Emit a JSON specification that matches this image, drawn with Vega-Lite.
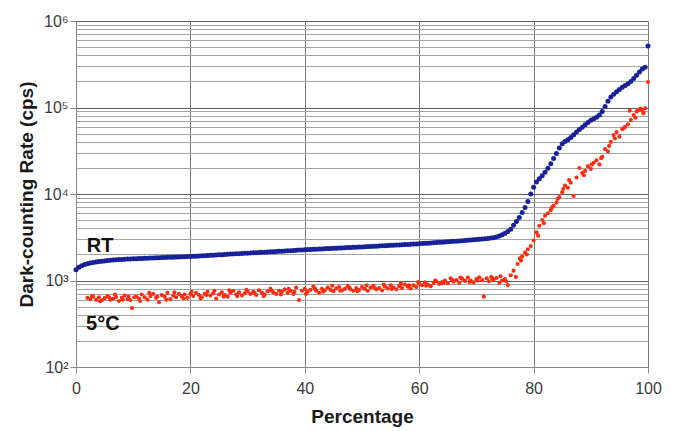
{
  "$schema": "https://vega.github.io/schema/vega-lite/v6.json",
  "width": 572,
  "height": 346,
  "autosize": {"type": "none"},
  "padding": {"left": 76, "top": 21, "right": 29, "bottom": 64},
  "background": "white",
  "config": {"view": {"stroke": null}},
  "layer": [
    {
      "data": {"values": [
        {"s":"RT","x":0,"y":1330},{"s":"RT","x":0.5,"y":1420},{"s":"RT","x":1,"y":1480},{"s":"RT","x":1.5,"y":1530},{"s":"RT","x":2,"y":1565},{"s":"RT","x":2.5,"y":1590},{"s":"RT","x":3,"y":1615},{"s":"RT","x":3.5,"y":1635},{"s":"RT","x":4,"y":1655},{"s":"RT","x":4.5,"y":1670},
        {"s":"RT","x":5,"y":1685},{"s":"RT","x":5.5,"y":1700},{"s":"RT","x":6,"y":1712},{"s":"RT","x":6.5,"y":1722},{"s":"RT","x":7,"y":1733},{"s":"RT","x":7.5,"y":1745},{"s":"RT","x":8,"y":1752},{"s":"RT","x":8.5,"y":1760},{"s":"RT","x":9,"y":1768},{"s":"RT","x":9.5,"y":1775},
        {"s":"RT","x":10,"y":1782},{"s":"RT","x":10.5,"y":1789},{"s":"RT","x":11,"y":1795},{"s":"RT","x":11.5,"y":1801},{"s":"RT","x":12,"y":1807},{"s":"RT","x":12.5,"y":1812},{"s":"RT","x":13,"y":1818},{"s":"RT","x":13.5,"y":1823},{"s":"RT","x":14,"y":1829},{"s":"RT","x":14.5,"y":1834},
        {"s":"RT","x":15,"y":1840},{"s":"RT","x":15.5,"y":1845},{"s":"RT","x":16,"y":1851},{"s":"RT","x":16.5,"y":1856},{"s":"RT","x":17,"y":1862},{"s":"RT","x":17.5,"y":1867},{"s":"RT","x":18,"y":1873},{"s":"RT","x":18.5,"y":1879},{"s":"RT","x":19,"y":1885},{"s":"RT","x":19.5,"y":1891},
        {"s":"RT","x":20,"y":1897},{"s":"RT","x":20.5,"y":1905},{"s":"RT","x":21,"y":1913},{"s":"RT","x":21.5,"y":1921},{"s":"RT","x":22,"y":1929},{"s":"RT","x":22.5,"y":1937},{"s":"RT","x":23,"y":1946},{"s":"RT","x":23.5,"y":1955},{"s":"RT","x":24,"y":1964},{"s":"RT","x":24.5,"y":1973},
        {"s":"RT","x":25,"y":1982},{"s":"RT","x":25.5,"y":1991},{"s":"RT","x":26,"y":2000},{"s":"RT","x":26.5,"y":2009},{"s":"RT","x":27,"y":2018},{"s":"RT","x":27.5,"y":2027},{"s":"RT","x":28,"y":2036},{"s":"RT","x":28.5,"y":2045},{"s":"RT","x":29,"y":2054},{"s":"RT","x":29.5,"y":2063},
        {"s":"RT","x":30,"y":2072},{"s":"RT","x":30.5,"y":2081},{"s":"RT","x":31,"y":2090},{"s":"RT","x":31.5,"y":2099},{"s":"RT","x":32,"y":2108},{"s":"RT","x":32.5,"y":2117},{"s":"RT","x":33,"y":2126},{"s":"RT","x":33.5,"y":2135},{"s":"RT","x":34,"y":2145},{"s":"RT","x":34.5,"y":2155},
        {"s":"RT","x":35,"y":2165},{"s":"RT","x":35.5,"y":2175},{"s":"RT","x":36,"y":2185},{"s":"RT","x":36.5,"y":2195},{"s":"RT","x":37,"y":2205},{"s":"RT","x":37.5,"y":2215},{"s":"RT","x":38,"y":2225},{"s":"RT","x":38.5,"y":2235},{"s":"RT","x":39,"y":2245},{"s":"RT","x":39.5,"y":2255},
        {"s":"RT","x":40,"y":2265},{"s":"RT","x":40.5,"y":2275},{"s":"RT","x":41,"y":2284},{"s":"RT","x":41.5,"y":2293},{"s":"RT","x":42,"y":2302},{"s":"RT","x":42.5,"y":2311},{"s":"RT","x":43,"y":2320},{"s":"RT","x":43.5,"y":2329},{"s":"RT","x":44,"y":2338},{"s":"RT","x":44.5,"y":2347},
        {"s":"RT","x":45,"y":2356},{"s":"RT","x":45.5,"y":2365},{"s":"RT","x":46,"y":2374},{"s":"RT","x":46.5,"y":2383},{"s":"RT","x":47,"y":2392},{"s":"RT","x":47.5,"y":2401},{"s":"RT","x":48,"y":2410},{"s":"RT","x":48.5,"y":2419},{"s":"RT","x":49,"y":2428},{"s":"RT","x":49.5,"y":2437},
        {"s":"RT","x":50,"y":2446},{"s":"RT","x":50.5,"y":2456},{"s":"RT","x":51,"y":2466},{"s":"RT","x":51.5,"y":2476},{"s":"RT","x":52,"y":2486},{"s":"RT","x":52.5,"y":2496},{"s":"RT","x":53,"y":2506},{"s":"RT","x":53.5,"y":2516},{"s":"RT","x":54,"y":2526},{"s":"RT","x":54.5,"y":2537},
        {"s":"RT","x":55,"y":2548},{"s":"RT","x":55.5,"y":2559},{"s":"RT","x":56,"y":2570},{"s":"RT","x":56.5,"y":2581},{"s":"RT","x":57,"y":2592},{"s":"RT","x":57.5,"y":2603},{"s":"RT","x":58,"y":2614},{"s":"RT","x":58.5,"y":2626},{"s":"RT","x":59,"y":2638},{"s":"RT","x":59.5,"y":2650},
        {"s":"RT","x":60,"y":2662},{"s":"RT","x":60.5,"y":2676},{"s":"RT","x":61,"y":2690},{"s":"RT","x":61.5,"y":2704},{"s":"RT","x":62,"y":2718},{"s":"RT","x":62.5,"y":2732},{"s":"RT","x":63,"y":2746},{"s":"RT","x":63.5,"y":2760},{"s":"RT","x":64,"y":2775},{"s":"RT","x":64.5,"y":2790},
        {"s":"RT","x":65,"y":2805},{"s":"RT","x":65.5,"y":2820},{"s":"RT","x":66,"y":2836},{"s":"RT","x":66.5,"y":2852},{"s":"RT","x":67,"y":2868},{"s":"RT","x":67.5,"y":2885},{"s":"RT","x":68,"y":2902},{"s":"RT","x":68.5,"y":2920},{"s":"RT","x":69,"y":2938},{"s":"RT","x":69.5,"y":2957},
        {"s":"RT","x":70,"y":2976},{"s":"RT","x":70.5,"y":2996},{"s":"RT","x":71,"y":3017},{"s":"RT","x":71.5,"y":3040},{"s":"RT","x":72,"y":3065},{"s":"RT","x":72.5,"y":3095},{"s":"RT","x":73,"y":3130},{"s":"RT","x":73.5,"y":3180},{"s":"RT","x":74,"y":3270},{"s":"RT","x":74.5,"y":3380},
        {"s":"RT","x":75,"y":3520},{"s":"RT","x":75.5,"y":3680},{"s":"RT","x":76,"y":3900},{"s":"RT","x":76.5,"y":4350},{"s":"RT","x":77,"y":4800},{"s":"RT","x":77.5,"y":5350},{"s":"RT","x":78,"y":6100},{"s":"RT","x":78.5,"y":7000},{"s":"RT","x":79,"y":8200},{"s":"RT","x":79.5,"y":10000},
        {"s":"RT","x":80,"y":12000},{"s":"RT","x":80.5,"y":13800},{"s":"RT","x":81,"y":15000},{"s":"RT","x":81.5,"y":16300},{"s":"RT","x":82,"y":17800},{"s":"RT","x":82.5,"y":19800},{"s":"RT","x":83,"y":22400},{"s":"RT","x":83.5,"y":25800},{"s":"RT","x":84,"y":29300},{"s":"RT","x":84.5,"y":34000},
        {"s":"RT","x":85,"y":38000},{"s":"RT","x":85.5,"y":40500},{"s":"RT","x":86,"y":42500},{"s":"RT","x":86.5,"y":45000},{"s":"RT","x":87,"y":48500},{"s":"RT","x":87.5,"y":52000},{"s":"RT","x":88,"y":55500},{"s":"RT","x":88.5,"y":59000},{"s":"RT","x":89,"y":63000},{"s":"RT","x":89.5,"y":67000},
        {"s":"RT","x":90,"y":71000},{"s":"RT","x":90.5,"y":74000},{"s":"RT","x":91,"y":77000},{"s":"RT","x":91.5,"y":82000},{"s":"RT","x":92,"y":90000},{"s":"RT","x":92.5,"y":103000},{"s":"RT","x":93,"y":118000},{"s":"RT","x":93.5,"y":132000},{"s":"RT","x":94,"y":142000},{"s":"RT","x":94.5,"y":152000},
        {"s":"RT","x":95,"y":162000},{"s":"RT","x":95.5,"y":172000},{"s":"RT","x":96,"y":180000},{"s":"RT","x":96.5,"y":188000},{"s":"RT","x":97,"y":200000},{"s":"RT","x":97.5,"y":216000},{"s":"RT","x":98,"y":236000},{"s":"RT","x":98.5,"y":258000},{"s":"RT","x":99,"y":278000},{"s":"RT","x":99.5,"y":292000},
        {"s":"RT","x":100,"y":515000},

        {"s":"5C","x":2,"y":630},{"s":"5C","x":2.5,"y":610},{"s":"5C","x":3,"y":650},{"s":"5C","x":3.5,"y":600},{"s":"5C","x":4,"y":640},{"s":"5C","x":4.5,"y":590},{"s":"5C","x":5,"y":625},{"s":"5C","x":5.5,"y":660},{"s":"5C","x":6,"y":600},{"s":"5C","x":6.5,"y":615},
        {"s":"5C","x":7,"y":645},{"s":"5C","x":7.5,"y":580},{"s":"5C","x":8,"y":630},{"s":"5C","x":8.5,"y":670},{"s":"5C","x":9,"y":610},{"s":"5C","x":9.5,"y":595},{"s":"5C","x":9.8,"y":480},{"s":"5C","x":10.2,"y":640},{"s":"5C","x":10.5,"y":650},{"s":"5C","x":11,"y":620},
        {"s":"5C","x":11.5,"y":690},{"s":"5C","x":12,"y":640},{"s":"5C","x":12.5,"y":600},{"s":"5C","x":13,"y":660},{"s":"5C","x":13.5,"y":700},{"s":"5C","x":14,"y":630},{"s":"5C","x":14.5,"y":560},{"s":"5C","x":15,"y":680},{"s":"5C","x":15.5,"y":650},{"s":"5C","x":16,"y":720},
        {"s":"5C","x":16.5,"y":610},{"s":"5C","x":17,"y":670},{"s":"5C","x":17.5,"y":640},{"s":"5C","x":18,"y":700},{"s":"5C","x":18.5,"y":655},{"s":"5C","x":19,"y":690},{"s":"5C","x":19.5,"y":630},{"s":"5C","x":20,"y":700},{"s":"5C","x":20.5,"y":660},{"s":"5C","x":21,"y":720},
        {"s":"5C","x":21.5,"y":680},{"s":"5C","x":22,"y":640},{"s":"5C","x":22.5,"y":700},{"s":"5C","x":23,"y":740},{"s":"5C","x":23.5,"y":670},{"s":"5C","x":24,"y":710},{"s":"5C","x":24.5,"y":620},{"s":"5C","x":25,"y":690},{"s":"5C","x":25.5,"y":730},{"s":"5C","x":26,"y":680},
        {"s":"5C","x":26.5,"y":650},{"s":"5C","x":27,"y":720},{"s":"5C","x":27.5,"y":760},{"s":"5C","x":28,"y":690},{"s":"5C","x":28.5,"y":730},{"s":"5C","x":29,"y":670},{"s":"5C","x":29.5,"y":710},{"s":"5C","x":30,"y":750},{"s":"5C","x":30.5,"y":700},{"s":"5C","x":31,"y":740},
        {"s":"5C","x":31.5,"y":680},{"s":"5C","x":32,"y":770},{"s":"5C","x":32.5,"y":720},{"s":"5C","x":33,"y":690},{"s":"5C","x":33.5,"y":750},{"s":"5C","x":34,"y":800},{"s":"5C","x":34.5,"y":730},{"s":"5C","x":35,"y":700},{"s":"5C","x":35.5,"y":760},{"s":"5C","x":36,"y":740},
        {"s":"5C","x":36.5,"y":790},{"s":"5C","x":37,"y":720},{"s":"5C","x":37.5,"y":760},{"s":"5C","x":38,"y":700},{"s":"5C","x":38.5,"y":830},{"s":"5C","x":39,"y":595},{"s":"5C","x":39.5,"y":760},{"s":"5C","x":40,"y":800},{"s":"5C","x":40.5,"y":740},{"s":"5C","x":41,"y":780},
        {"s":"5C","x":41.5,"y":850},{"s":"5C","x":42,"y":760},{"s":"5C","x":42.5,"y":720},{"s":"5C","x":43,"y":800},{"s":"5C","x":43.5,"y":770},{"s":"5C","x":44,"y":830},{"s":"5C","x":44.5,"y":780},{"s":"5C","x":45,"y":750},{"s":"5C","x":45.5,"y":810},{"s":"5C","x":46,"y":840},
        {"s":"5C","x":46.5,"y":770},{"s":"5C","x":47,"y":800},{"s":"5C","x":47.5,"y":860},{"s":"5C","x":48,"y":790},{"s":"5C","x":48.5,"y":760},{"s":"5C","x":49,"y":820},{"s":"5C","x":49.5,"y":780},{"s":"5C","x":50,"y":840},{"s":"5C","x":50.5,"y":800},{"s":"5C","x":51,"y":760},
        {"s":"5C","x":51.5,"y":830},{"s":"5C","x":52,"y":870},{"s":"5C","x":52.5,"y":790},{"s":"5C","x":53,"y":820},{"s":"5C","x":53.5,"y":770},{"s":"5C","x":54,"y":850},{"s":"5C","x":54.5,"y":810},{"s":"5C","x":55,"y":880},{"s":"5C","x":55.5,"y":830},{"s":"5C","x":56,"y":790},
        {"s":"5C","x":56.5,"y":860},{"s":"5C","x":57,"y":820},{"s":"5C","x":57.5,"y":900},{"s":"5C","x":58,"y":850},{"s":"5C","x":58.5,"y":810},{"s":"5C","x":59,"y":880},{"s":"5C","x":59.5,"y":840},{"s":"5C","x":60,"y":920},{"s":"5C","x":60.5,"y":880},{"s":"5C","x":61,"y":950},
        {"s":"5C","x":61.5,"y":900},{"s":"5C","x":62,"y":860},{"s":"5C","x":62.5,"y":940},{"s":"5C","x":63,"y":980},{"s":"5C","x":63.5,"y":910},{"s":"5C","x":64,"y":960},{"s":"5C","x":64.5,"y":1000},{"s":"5C","x":65,"y":930},{"s":"5C","x":65.5,"y":1060},{"s":"5C","x":66,"y":970},
        {"s":"5C","x":66.5,"y":1010},{"s":"5C","x":67,"y":940},{"s":"5C","x":67.5,"y":1050},{"s":"5C","x":68,"y":990},{"s":"5C","x":68.5,"y":1080},{"s":"5C","x":69,"y":1000},{"s":"5C","x":69.5,"y":950},{"s":"5C","x":70,"y":1040},{"s":"5C","x":70.5,"y":1090},{"s":"5C","x":71,"y":1010},
        {"s":"5C","x":71.3,"y":650},{"s":"5C","x":71.8,"y":1060},{"s":"5C","x":72.2,"y":980},{"s":"5C","x":72.6,"y":1100},{"s":"5C","x":73,"y":1020},{"s":"5C","x":73.5,"y":1070},{"s":"5C","x":74,"y":940},{"s":"5C","x":74.5,"y":1000},{"s":"5C","x":75,"y":1040},{"s":"5C","x":75.5,"y":885},
        {"s":"5C","x":76,"y":1150},{"s":"5C","x":76.5,"y":1300},{"s":"5C","x":76.9,"y":1100},{"s":"5C","x":77.2,"y":1550},{"s":"5C","x":77.6,"y":1800},{"s":"5C","x":78,"y":1900},{"s":"5C","x":78.5,"y":2100},{"s":"5C","x":79,"y":2300},{"s":"5C","x":79.5,"y":2500},{"s":"5C","x":80,"y":2900},
        {"s":"5C","x":80.5,"y":3600},{"s":"5C","x":81,"y":4300},{"s":"5C","x":81.5,"y":5000},{"s":"5C","x":82,"y":5600},{"s":"5C","x":82.5,"y":6000},{"s":"5C","x":83,"y":6500},{"s":"5C","x":83.5,"y":7300},{"s":"5C","x":84,"y":8000},{"s":"5C","x":84.5,"y":9200},{"s":"5C","x":85,"y":10500},
        {"s":"5C","x":85.5,"y":12500},{"s":"5C","x":86,"y":11800},{"s":"5C","x":86.5,"y":13500},{"s":"5C","x":87,"y":9500},{"s":"5C","x":87.5,"y":15500},{"s":"5C","x":88,"y":20000},{"s":"5C","x":88.5,"y":17500},{"s":"5C","x":89,"y":18500},{"s":"5C","x":89.5,"y":21000},{"s":"5C","x":90,"y":19500},
        {"s":"5C","x":90.5,"y":23000},{"s":"5C","x":91,"y":24500},{"s":"5C","x":91.5,"y":22000},{"s":"5C","x":92,"y":27000},{"s":"5C","x":92.5,"y":33000},{"s":"5C","x":93,"y":31000},{"s":"5C","x":93.5,"y":40000},{"s":"5C","x":94,"y":48000},{"s":"5C","x":94.5,"y":52000},{"s":"5C","x":95,"y":46000},
        {"s":"5C","x":95.5,"y":56000},{"s":"5C","x":96,"y":60000},{"s":"5C","x":96.5,"y":64000},{"s":"5C","x":96.8,"y":92000},{"s":"5C","x":97,"y":72000},{"s":"5C","x":97.5,"y":82000},{"s":"5C","x":98,"y":90000},{"s":"5C","x":98.3,"y":93000},{"s":"5C","x":98.7,"y":97000},{"s":"5C","x":99.2,"y":86000},
        {"s":"5C","x":99.5,"y":98000},{"s":"5C","x":100,"y":197000},
        {"s":"5C","x":2.8,"y":660},{"s":"5C","x":4.2,"y":575},{"s":"5C","x":5.8,"y":640},{"s":"5C","x":6.8,"y":690},{"s":"5C","x":8.2,"y":600},{"s":"5C","x":9.2,"y":650},{"s":"5C","x":11.2,"y":580},{"s":"5C","x":12.8,"y":720},{"s":"5C","x":14.2,"y":650},{"s":"5C","x":15.8,"y":600},
        {"s":"5C","x":17.2,"y":730},{"s":"5C","x":18.8,"y":620},{"s":"5C","x":20.2,"y":740},{"s":"5C","x":21.8,"y":620},{"s":"5C","x":22.8,"y":680},{"s":"5C","x":24.2,"y":760},{"s":"5C","x":25.8,"y":650},{"s":"5C","x":26.8,"y":770},{"s":"5C","x":28.2,"y":660},{"s":"5C","x":29.8,"y":780},
        {"s":"5C","x":31.2,"y":720},{"s":"5C","x":32.8,"y":660},{"s":"5C","x":34.2,"y":760},{"s":"5C","x":35.8,"y":690},{"s":"5C","x":37.2,"y":800},{"s":"5C","x":38.2,"y":740},{"s":"5C","x":40.2,"y":700},{"s":"5C","x":41.8,"y":800},{"s":"5C","x":43.2,"y":740},{"s":"5C","x":44.8,"y":870},
        {"s":"5C","x":46.2,"y":760},{"s":"5C","x":47.8,"y":830},{"s":"5C","x":49.2,"y":750},{"s":"5C","x":50.8,"y":880},{"s":"5C","x":52.2,"y":820},{"s":"5C","x":53.8,"y":900},{"s":"5C","x":55.2,"y":800},{"s":"5C","x":56.8,"y":920},{"s":"5C","x":58.2,"y":880},{"s":"5C","x":59.8,"y":960},
        {"s":"5C","x":61.2,"y":870},{"s":"5C","x":62.8,"y":1000},{"s":"5C","x":64.2,"y":930},{"s":"5C","x":65.8,"y":1010},{"s":"5C","x":67.2,"y":1080},{"s":"5C","x":68.8,"y":960},{"s":"5C","x":70.2,"y":1000},{"s":"5C","x":72.8,"y":1050},{"s":"5C","x":74.2,"y":1120},{"s":"5C","x":75.2,"y":980},
        {"s":"5C","x":77.8,"y":1700},{"s":"5C","x":78.8,"y":2000},{"s":"5C","x":80.8,"y":3300},{"s":"5C","x":81.8,"y":4600},{"s":"5C","x":83.2,"y":7000},{"s":"5C","x":84.2,"y":8800},{"s":"5C","x":85.2,"y":11500},{"s":"5C","x":86.2,"y":14500},{"s":"5C","x":88.8,"y":16500},{"s":"5C","x":90.2,"y":22000},
        {"s":"5C","x":91.8,"y":26000},{"s":"5C","x":93.2,"y":36000},{"s":"5C","x":94.2,"y":44000},{"s":"5C","x":95.8,"y":58000},{"s":"5C","x":97.8,"y":76000},{"s":"5C","x":99,"y":92000}
      ]},
      "mark": {"type": "circle", "opacity": 1},
      "encoding": {
        "x": {
          "field": "x", "type": "quantitative",
          "scale": {"domain": [0, 100], "nice": false, "zero": false},
          "axis": {
            "values": [0, 20, 40, 60, 80, 100],
            "grid": true, "gridColor": "#7a7a7a", "gridWidth": 1,
            "domainColor": "#8a8a8a", "tickColor": "#8a8a8a", "tickSize": 6,
            "labelFont": "Liberation Sans", "labelFontSize": 16, "labelColor": "#3a3a3a",
            "labelPadding": 7, "labelFlush": false, "labelOverlap": false,
            "title": "Percentage", "titleFont": "Liberation Sans", "titleFontSize": 19,
            "titleFontWeight": "bold", "titleColor": "#1a1a1a",
            "titleBaseline": "alphabetic", "titleY": 55
          }
        },
        "y": {
          "field": "y", "type": "quantitative",
          "scale": {"type": "log", "domain": [100, 1000000], "nice": false},
          "axis": {
            "values": [100,200,300,400,500,600,700,800,900,1000,2000,3000,4000,5000,6000,7000,8000,9000,10000,20000,30000,40000,50000,60000,70000,80000,90000,100000,200000,300000,400000,500000,600000,700000,800000,900000,1000000],
            "labelExpr": "datum.value == 100 ? '10²' : datum.value == 1000 ? '10³' : datum.value == 10000 ? '10⁴' : datum.value == 100000 ? '10⁵' : datum.value == 1000000 ? '10⁶' : ''",
            "grid": true,
            "gridColor": {"condition": {"test": "indexof([100,1000,10000,100000,1000000], datum.value) >= 0", "value": "#5e5e5e"}, "value": "#a3a3a3"},
            "tickColor": {"condition": {"test": "indexof([100,1000,10000,100000,1000000], datum.value) >= 0", "value": "#8a8a8a"}, "value": "transparent"},
            "tickSize": 6,
            "domainColor": "#8a8a8a",
            "labelFont": "Liberation Sans", "labelFontSize": 16, "labelColor": "#3a3a3a",
            "labelPadding": 2, "labelFlush": false, "labelOverlap": false,
            "title": "Dark-counting Rate (cps)", "titleFont": "Liberation Sans", "titleFontSize": 19,
            "titleFontWeight": "bold", "titleColor": "#1a1a1a",
            "titleBaseline": "alphabetic", "titleX": -44
          }
        },
        "color": {
          "field": "s", "type": "nominal",
          "scale": {"domain": ["RT", "5C"], "range": ["#17229a", "#ff2d10"]},
          "legend": null
        },
        "size": {
          "field": "s", "type": "nominal",
          "scale": {"domain": ["RT", "5C"], "range": [25, 17]},
          "legend": null
        }
      }
    },
    {
      "data": {"values": [
        {"x": 1.9, "y": 2143, "t": "RT"},
        {"x": 1.75, "y": 267, "t": "5°C"}
      ]},
      "mark": {"type": "text", "align": "left", "baseline": "alphabetic", "font": "Liberation Sans", "fontSize": 20, "fontWeight": "bold", "color": "#111111"},
      "encoding": {
        "x": {"field": "x", "type": "quantitative"},
        "y": {"field": "y", "type": "quantitative"},
        "text": {"field": "t"}
      }
    }
  ]
}
